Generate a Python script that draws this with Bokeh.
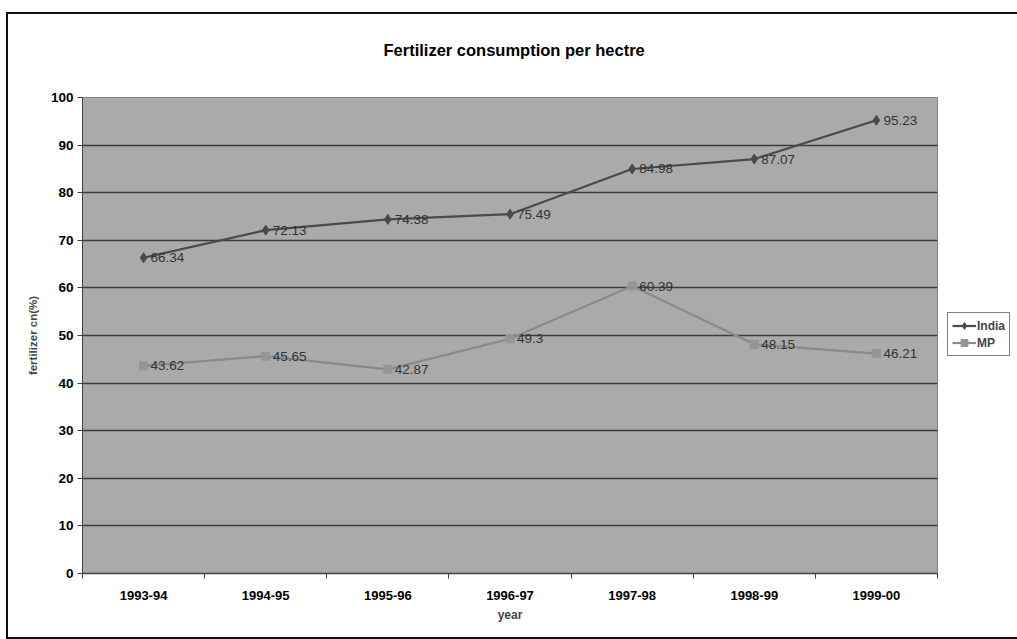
from bokeh.plotting import figure
from bokeh.models import (FixedTicker, Range1d, Legend, LegendItem,
                          ColumnDataSource, LabelSet, Title)
from bokeh.core.properties import value
from bokeh.embed import file_html
from bokeh.resources import INLINE

years = ["1993-94", "1994-95", "1995-96", "1996-97", "1997-98", "1998-99", "1999-00"]
india = [66.34, 72.13, 74.38, 75.49, 84.98, 87.07, 95.23]
mp = [43.62, 45.65, 42.87, 49.3, 60.39, 48.15, 46.21]
y_ticks = [0, 10, 20, 30, 40, 50, 60, 70, 80, 90, 100]

FONT = "Liberation Sans"
xs = [i + 0.5 for i in range(len(years))]

p = figure(width=1017, height=639, frame_width=855, frame_height=476,
           output_backend="svg", toolbar_location=None, sizing_mode="fixed",
           x_range=Range1d(0, len(years)), y_range=Range1d(0, 100),
           min_border_left=82, min_border_right=0, min_border_top=97, min_border_bottom=66)
# outer chart border (left, top, bottom edges) painted behind a transparent canvas border
p.styles = {"background": ("linear-gradient(#111,#111) 6px 12px / 2px 627px no-repeat, "
                           "linear-gradient(#111,#111) 6px 12px / 1011px 2px no-repeat, "
                           "linear-gradient(#111,#111) 6px 637px / 1011px 2px no-repeat, white")}

p.background_fill_color = "#aaaaaa"
p.border_fill_color = None
p.outline_line_color = "#808080"
p.outline_line_width = 1

# Title
t = Title(text="Fertilizer consumption per hectre", align="left", offset=301,
          text_font=FONT, text_font_size="16.5px", text_font_style="bold",
          text_color="black", standoff=77)
p.add_layout(t, "above")

# axes
p.xaxis.ticker = FixedTicker(ticks=xs, minor_ticks=list(range(len(years) + 1)))
p.xaxis.major_label_overrides = {x: y for x, y in zip(xs, years)}
p.xaxis.major_tick_out = 0
p.xaxis.major_tick_in = 0
p.xaxis.minor_tick_out = 5
p.xaxis.minor_tick_in = 0
p.xaxis.minor_tick_line_color = "#404040"
p.xaxis.axis_line_color = "#404040"
p.xaxis.axis_line_width = 1.5
p.xaxis.major_label_text_font = FONT
p.xaxis.major_label_text_font_size = "13px"
p.xaxis.major_label_text_font_style = "bold"
p.xaxis.major_label_text_color = "black"
p.xaxis.major_label_standoff = 12
p.xaxis.axis_label = "year"
p.xaxis.axis_label_text_font = FONT
p.xaxis.axis_label_text_font_size = "12px"
p.xaxis.axis_label_text_font_style = "bold"
p.xaxis.axis_label_standoff = 5

p.yaxis.ticker = FixedTicker(ticks=y_ticks)
p.yaxis.minor_tick_line_color = None
p.yaxis.major_tick_out = 5
p.yaxis.major_tick_in = 0
p.yaxis.major_tick_line_color = "#404040"
p.yaxis.axis_line_color = "#404040"
p.yaxis.major_label_text_font = FONT
p.yaxis.major_label_text_font_size = "13.5px"
p.yaxis.major_label_text_font_style = "bold"
p.yaxis.major_label_text_color = "black"
p.yaxis.major_label_standoff = 4
p.yaxis.axis_label = "fertilizer cn(%)"
p.yaxis.axis_label_text_font = FONT
p.yaxis.axis_label_text_font_size = "11.5px"
p.yaxis.axis_label_text_font_style = "bold"
p.yaxis.axis_label_standoff = 9

p.xgrid.grid_line_color = None
p.ygrid.ticker = FixedTicker(ticks=y_ticks)
p.ygrid.grid_line_color = "#3c3c3c"
p.ygrid.grid_line_width = 1.3

src = ColumnDataSource(dict(x=xs, india=india, mp=mp,
                            il=[f"{v:g}" for v in india], ml=[f"{v:g}" for v in mp]))

r_il = p.line("x", "india", source=src, line_color="#4a4a4a", line_width=2.2)
r_im = p.scatter("x", "india", source=src, marker="diamond", size=10,
                 fill_color="#4a4a4a", line_color="#4a4a4a")
r_ml = p.line("x", "mp", source=src, line_color="#8a8a8a", line_width=2.2)
r_mm = p.scatter("x", "mp", source=src, marker="square", size=8,
                 fill_color="#959595", line_color="#959595")

for col, ycol in (("il", "india"), ("ml", "mp")):
    p.add_layout(LabelSet(x="x", y=ycol, text=col, source=src, x_offset=7, y_offset=0,
                          text_baseline="middle", text_font=value(FONT),
                          text_font_size="13.5px", text_color="#333333"))

legend = Legend(items=[LegendItem(label="India", renderers=[r_il, r_im]),
                       LegendItem(label="MP", renderers=[r_ml, r_mm])],
                location=(10, 217), orientation="vertical",
                border_line_color="black", border_line_width=1.3,
                background_fill_color="white", background_fill_alpha=1,
                label_text_font=FONT, label_text_font_size="12px",
                label_text_font_style="bold", label_standoff=1,
                glyph_width=24, glyph_height=17, spacing=0, padding=4, margin=0,
                label_height=17, label_width=20)
p.add_layout(legend, "right")

open("out.html", "w").write(file_html(p, INLINE))
